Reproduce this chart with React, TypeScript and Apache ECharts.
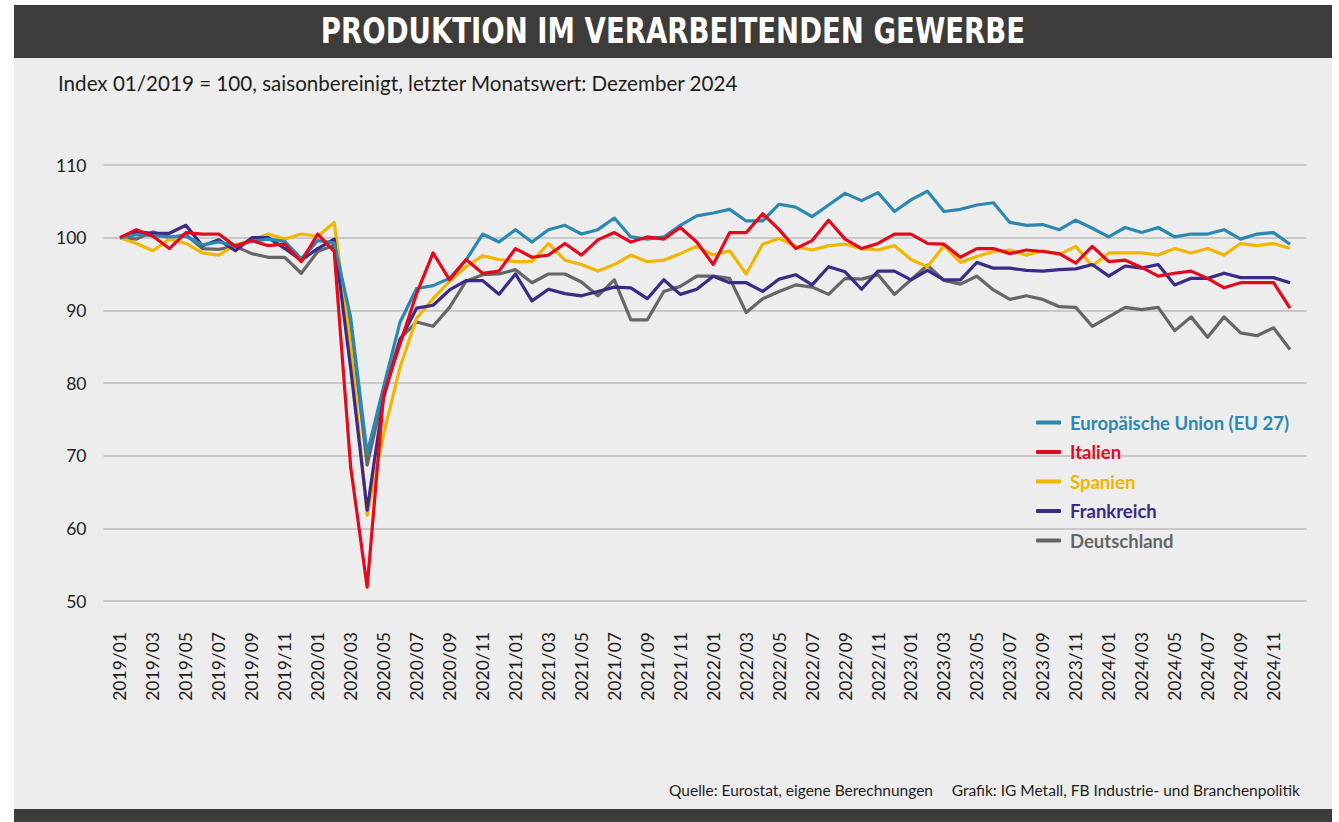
import React, { useEffect, useRef } from "react";
import * as echarts from "echarts";

const months = [
  "2019/01", "2019/02", "2019/03", "2019/04", "2019/05", "2019/06", "2019/07", "2019/08", "2019/09", "2019/10", "2019/11", "2019/12",
  "2020/01", "2020/02", "2020/03", "2020/04", "2020/05", "2020/06", "2020/07", "2020/08", "2020/09", "2020/10", "2020/11", "2020/12",
  "2021/01", "2021/02", "2021/03", "2021/04", "2021/05", "2021/06", "2021/07", "2021/08", "2021/09", "2021/10", "2021/11", "2021/12",
  "2022/01", "2022/02", "2022/03", "2022/04", "2022/05", "2022/06", "2022/07", "2022/08", "2022/09", "2022/10", "2022/11", "2022/12",
  "2023/01", "2023/02", "2023/03", "2023/04", "2023/05", "2023/06", "2023/07", "2023/08", "2023/09", "2023/10", "2023/11", "2023/12",
  "2024/01", "2024/02", "2024/03", "2024/04", "2024/05", "2024/06", "2024/07", "2024/08", "2024/09", "2024/10", "2024/11", "2024/12",
];

const euValues = [
  100, 100.4, 100.3, 100.1, 100.2, 99.0, 99.4, 98.9, 99.5, 99.8, 99.5, 97.1,
  99.6, 99.3, 89.0, 70.3, 79.5, 88.4, 93.0, 93.4, 94.4, 96.9, 100.5, 99.4,
  101.1, 99.4, 101.1, 101.7, 100.5, 101.1, 102.7, 100.1, 99.8, 100.1, 101.7, 103.0,
  103.4, 103.9, 102.3, 102.3, 104.6, 104.2, 102.9, 104.5, 106.1, 105.1, 106.2, 103.6,
  105.2, 106.4, 103.6, 103.9, 104.5, 104.8, 102.1, 101.7, 101.8, 101.1, 102.4, 101.3,
  100.1, 101.4, 100.7, 101.4, 100.1, 100.5, 100.5, 101.1, 99.8, 100.5, 100.7, 99.1,
];

const italyValues = [
  100, 101.1, 100.2, 98.5, 100.7, 100.5, 100.5, 98.8, 99.6, 98.9, 99.1, 96.7,
  100.5, 98.1, 68.4, 51.9, 78.5, 85.4, 92.3, 97.9, 94.2, 97.0, 95.1, 95.4,
  98.5, 97.3, 97.6, 99.2, 97.6, 99.7, 100.7, 99.4, 100.1, 99.8, 101.4, 99.4,
  96.3, 100.7, 100.7, 103.3, 101.1, 98.5, 99.6, 102.4, 99.8, 98.5, 99.2, 100.5,
  100.5, 99.2, 99.1, 97.3, 98.5, 98.5, 97.8, 98.3, 98.1, 97.8, 96.5, 98.8,
  96.7, 96.9, 95.9, 94.7, 95.1, 95.4, 94.4, 93.1, 93.8, 93.8, 93.8, 90.3,
];

const spainValues = [
  100, 99.2, 98.2, 99.8, 99.2, 97.9, 97.6, 99.0, 99.7, 100.5, 99.8, 100.5,
  100.2, 102.1, 85.0, 61.8, 73.0, 82.2, 88.9, 91.6, 94.0, 96.0, 97.5, 97.0,
  96.7, 96.7, 99.2, 96.9, 96.3, 95.4, 96.3, 97.6, 96.7, 96.9, 97.8, 98.8,
  97.6, 98.2, 95.0, 99.1, 99.9, 98.8, 98.3, 98.9, 99.1, 98.5, 98.3, 98.9,
  97.0, 96.0, 98.9, 96.6, 97.4, 98.1, 98.3, 97.6, 98.2, 97.7, 98.8, 96.1,
  97.9, 97.9, 97.9, 97.6, 98.5, 97.9, 98.5, 97.6, 99.2, 98.9, 99.2, 98.5,
];

const franceValues = [
  100, 100.8, 100.6, 100.6, 101.7, 98.9, 99.7, 98.2, 100.0, 100.0, 98.5, 96.9,
  98.5, 99.8, 82.0, 62.5, 78.0, 85.9, 90.3, 90.7, 92.8, 94.1, 94.1, 92.2,
  95.0, 91.3, 92.9, 92.3, 92.0, 92.6, 93.2, 93.1, 91.6, 94.2, 92.2, 92.9,
  94.7, 93.8, 93.8, 92.6, 94.3, 94.9, 93.5, 96.0, 95.3, 92.9, 95.4, 95.4,
  94.2, 95.5, 94.2, 94.2, 96.6, 95.8, 95.8, 95.5, 95.4, 95.6, 95.7, 96.3,
  94.7, 96.1, 95.8, 96.3, 93.5, 94.4, 94.4, 95.1, 94.5, 94.5, 94.5, 93.8,
];

const germanyValues = [
  100, 99.8, 100.8, 100.0, 100.4, 98.5, 98.4, 98.8, 97.8, 97.3, 97.3, 95.1,
  98.1, 99.0, 88.2, 68.7, 78.8, 86.1, 88.4, 87.8, 90.4, 94.0, 94.9, 95.0,
  95.6, 93.8, 95.0, 95.0, 93.9, 92.0, 94.2, 88.7, 88.7, 92.6, 93.3, 94.7,
  94.7, 94.4, 89.7, 91.6, 92.6, 93.5, 93.2, 92.2, 94.4, 94.3, 94.9, 92.2,
  94.2, 96.2, 94.1, 93.6, 94.7, 92.8, 91.5, 92.0, 91.5, 90.5, 90.4, 87.8,
  89.1, 90.4, 90.1, 90.4, 87.2, 89.1, 86.3, 89.1, 86.9, 86.5, 87.6, 84.6,
];

const seriesNames = ["Europäische Union (EU 27)", "Italien", "Spanien", "Frankreich", "Deutschland"];
const seriesColors = ["#2b88b0", "#e30a1d", "#f0b600", "#3b2a86", "#666666"];
const seriesValues = [euValues, italyValues, spainValues, franceValues, germanyValues];
const seriesZ = [5, 6, 3, 4, 2];

const yMin = 50;
const yMax = 110;
const yStep = 10;

const titleText = "PRODUKTION IM VERARBEITENDEN GEWERBE";
const subtitleText = "Index 01/2019 = 100, saisonbereinigt, letzter Monatswert: Dezember 2024";
const sourceText = "Quelle: Eurostat, eigene Berechnungen";
const creditText = "Grafik: IG Metall, FB Industrie- und Branchenpolitik";

export default function App() {
  const ref = useRef<HTMLDivElement>(null);

  useEffect(() => {
    document.body.style.margin = "0";
    const chart = echarts.init(ref.current as HTMLDivElement, null, { renderer: "svg" });
    const font = "Lato, 'Open Sans', sans-serif";
    const textColor = "#1d1d1b";

    chart.setOption({
      animation: false,
      backgroundColor: "#ffffff",
      grid: { left: 103.5, right: 32.5, top: 165, bottom: 221, containLabel: false },
      xAxis: {
        type: "value",
        min: -1,
        max: months.length,
        interval: 1,
        axisLine: { show: false },
        axisTick: { show: false },
        splitLine: { show: false },
        axisLabel: {
          rotate: 90,
          margin: 31,
          color: textColor,
          fontFamily: font,
          fontSize: 17.5,
          formatter: (v: number) => (v >= 0 && v < months.length && v % 2 === 0 ? months[v] : ""),
        },
      },
      yAxis: {
        type: "value",
        min: yMin,
        max: yMax,
        interval: yStep,
        axisLine: { show: false },
        axisTick: { show: false },
        splitLine: { lineStyle: { color: "#c8c8c8", width: 2 } },
        axisLabel: { margin: 17, color: textColor, fontFamily: font, fontSize: 17.5 },
      },
      legend: {
        orient: "vertical",
        left: 1031,
        top: 408,
        itemWidth: 25,
        itemHeight: 4,
        itemGap: 10.5,
        icon: "roundRect",
        textStyle: { fontFamily: font, fontSize: 18.5, fontWeight: "bold", padding: [0, 0, 0, 4] },
        data: seriesNames.map((n, i) => ({ name: n, textStyle: { color: seriesColors[i] } })),
      },
      series: seriesNames.map((n, i) => ({
        name: n,
        type: "line",
        z: seriesZ[i],
        symbol: "none",
        color: seriesColors[i],
        lineStyle: { width: 3.2, color: seriesColors[i], join: "round" },
        data: seriesValues[i].map((v, k) => [k, v]),
      })),
      graphic: [
        { type: "rect", z: -10, shape: { x: 14, y: 5, width: 1318, height: 817 }, style: { fill: "#ededed" } },
        { type: "rect", z: -9, shape: { x: 14, y: 5, width: 1318, height: 53 }, style: { fill: "#3c3c3b" } },
        { type: "rect", z: -9, shape: { x: 14, y: 809, width: 1318, height: 13 }, style: { fill: "#3c3c3b" } },
        {
          type: "text",
          z: 10,
          x: 673,
          y: 31,
          scaleX: 0.875,
          style: {
            text: titleText,
            fill: "#ffffff",
            fontFamily: "'DejaVu Sans Condensed', 'Liberation Sans Narrow', sans-serif",
            fontWeight: "bold",
            fontSize: 35,
            textAlign: "center",
            textVerticalAlign: "middle",
          },
        },
        {
          type: "text",
          z: 10,
          x: 58,
          y: 83,
          style: {
            text: subtitleText,
            fill: textColor,
            fontFamily: font,
            fontSize: 20.6,
            textAlign: "left",
            textVerticalAlign: "middle",
          },
        },
        {
          type: "text",
          z: 10,
          x: 933,
          y: 790,
          style: { text: sourceText, fill: textColor, fontFamily: font, fontSize: 15.5, textAlign: "right", textVerticalAlign: "middle" },
        },
        {
          type: "text",
          z: 10,
          x: 1300,
          y: 790,
          style: { text: creditText, fill: textColor, fontFamily: font, fontSize: 15.5, textAlign: "right", textVerticalAlign: "middle" },
        },
      ],
    });

    return () => chart.dispose();
  }, []);

  return <div ref={ref} style={{ position: "fixed", left: 0, top: 0, width: 1339, height: 822 }} />;
}
